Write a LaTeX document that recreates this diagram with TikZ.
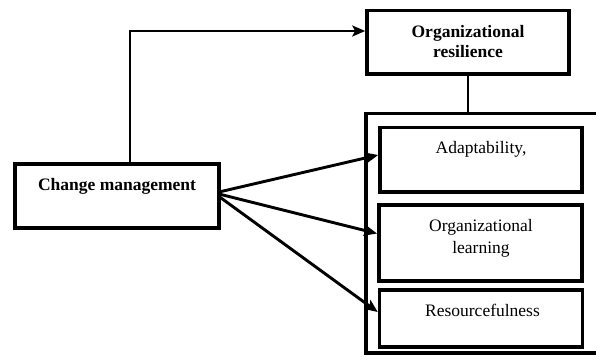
\documentclass[tikz,border=0pt]{standalone}
\usepackage{fontspec}
\setmainfont{Liberation Serif}
\usetikzlibrary{arrows.meta}
\begin{document}
\begin{tikzpicture}[x=1bp,y=-1bp,
  box/.style={draw=black,line width=3.6bp,fill=white,rectangle,inner sep=0pt},
  lbl/.style={anchor=base,font=\fontsize{17.56}{21.5}\selectfont,inner sep=0pt},
  blbl/.style={lbl,font=\fontsize{17.56}{20}\selectfont\bfseries},
  link/.style={line width=2.9bp},
  arr/.style={link,-{Stealth[length=13bp,width=11bp,inset=3bp]}}]
\clip (0,0) rectangle (596,356);
\useasboundingbox (0,0) rectangle (596,356);
\fill[white] (0,0) rectangle (596,356);

% left-hand driver
\node[box,minimum width=203.4bp,minimum height=64bp] (cm) at (117,196) {};
\node[blbl] (cmt) at (117,190) {Change management};

% outcome box at the top
\node[box,minimum width=202bp,minimum height=63.5bp] (res) at (468,42.25) {};
\node[blbl,align=center] (rest) at (468,57) {Organizational\\resilience};

% frame holding the three dimensions
\node[box,minimum width=240bp,minimum height=239.5bp] (frame) at (486,233.25) {};

\node[box,minimum width=202bp,minimum height=64.7bp] (ad) at (481,159.65) {};
\node[lbl] (adt) at (481,153) {Adaptability,};

\node[box,minimum width=203.5bp,minimum height=76.3bp] (ol) at (480.5,242.85) {};
\node[lbl,align=center] (olt) at (481,253.3) {Organizational\\learning};

\node[box,minimum width=203bp,minimum height=57bp] (rf) at (481,318.5) {};
\node[lbl] (rft) at (482.5,316) {Resourcefulness};

% connectors
\draw[link] (res.south) -- (frame.north -| res.south);
\draw[arr] (cm.north -| 130,0) |- (res.west |- 0,31);
\coordinate (o1) at (219,192);
\coordinate (o2) at (219,194);
\coordinate (o3) at (219,196.5);
\draw[arr] (o1) -- (ad.west |- 0,155);
\draw[arr] (o2) -- (ol.west |- 0,233.5);
\draw[arr] (o3) -- (rf.west |- 0,312);
\end{tikzpicture}
\end{document}
